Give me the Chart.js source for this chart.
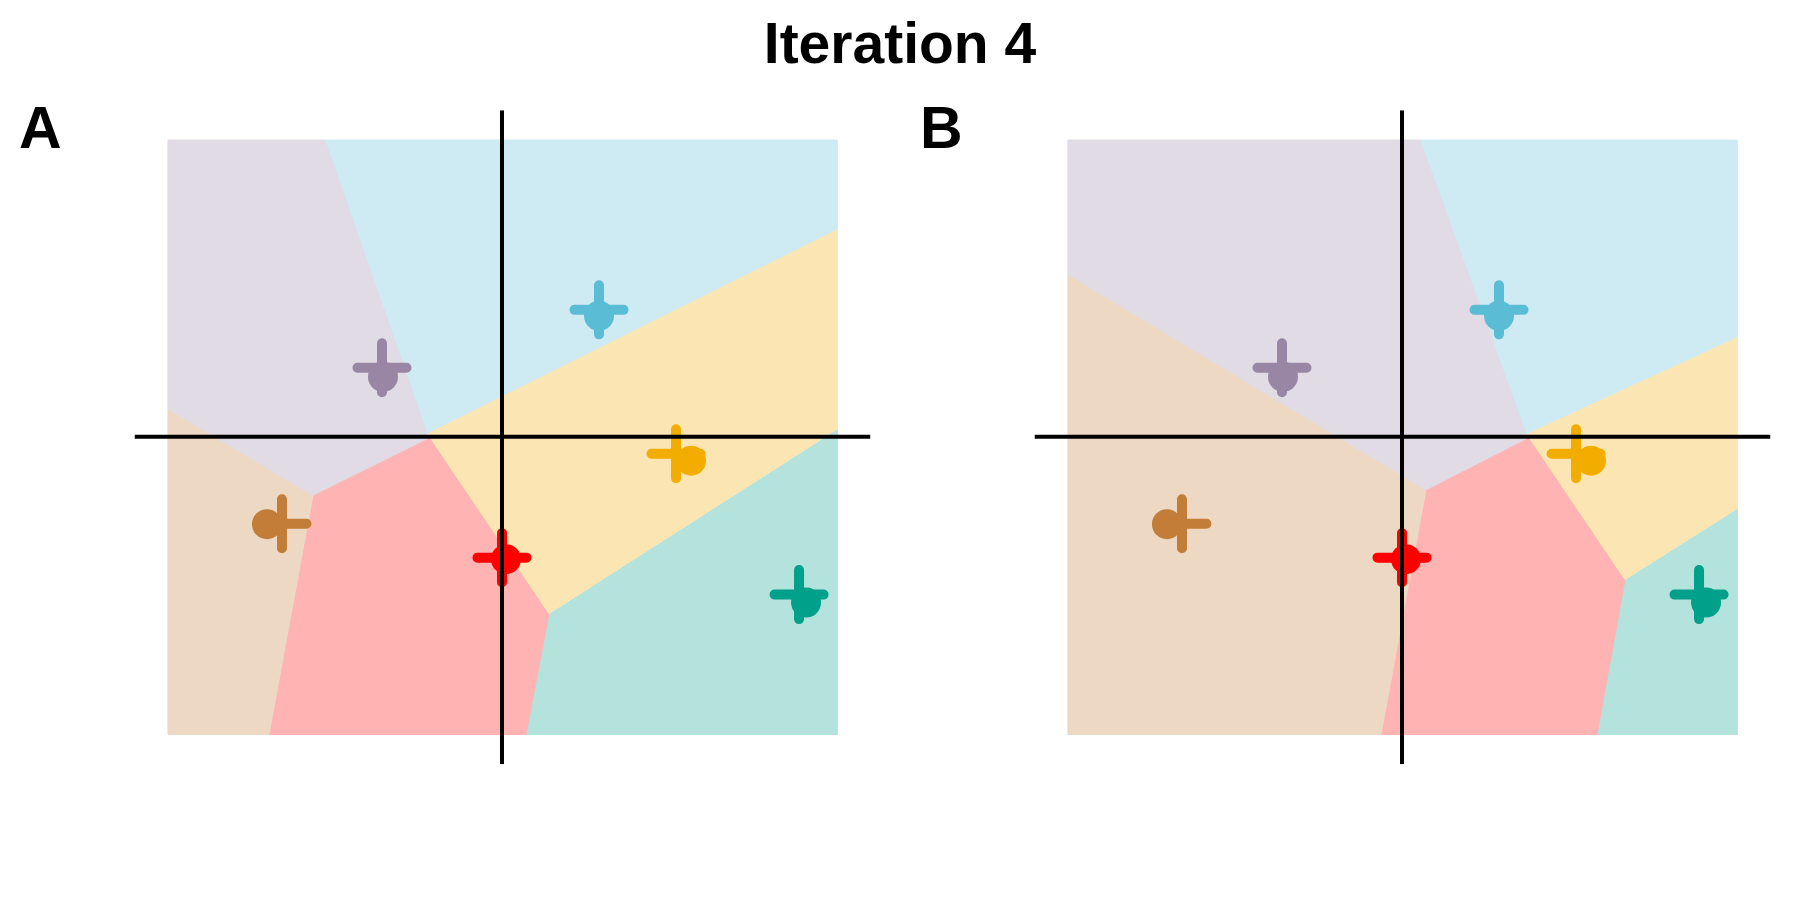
<!DOCTYPE html>
<html>
<head>
<meta charset="utf-8">
<title>Iteration 4</title>
<script src="https://cdn.jsdelivr.net/npm/chart.js@4.4.1/dist/chart.umd.min.js"></script>
<style>
    html, body { margin: 0; padding: 0; background: #fff; }
    body { width: 1800px; height: 900px; position: relative; overflow: hidden; font-family: "Liberation Sans", Arial, sans-serif; }
    .painel { position: absolute; top: 0; width: 900px; height: 900px; }
    .titulo { position: absolute; left: 0; top: 15px; width: 1800px; text-align: center; font-size: 57px; line-height: 57px; font-weight: bold; color: #000; }
    .letra { position: absolute; top: 99px; font-size: 59px; line-height: 59px; font-weight: bold; color: #000; }
</style>
</head>
<body>
<div class="titulo">Iteration 4</div>
<div class="letra" style="left: 19px;">A</div>
<div class="letra" style="left: 920px;">B</div>
<canvas id="painelA" class="painel" style="left: 0;" width="900" height="900"></canvas>
<canvas id="painelB" class="painel" style="left: 900px;" width="900" height="900"></canvas>

<script>
// Limites do retângulo das regiões (unidades dos dados)
const limiteX = [-3.34, 3.35];
const limiteY = [-2.98, 2.97];

// Grupos, na mesma ordem em todas as listas abaixo
const grupos = ['roxo', 'ciano', 'amarelo', 'marrom', 'vermelho', 'verde'];

// Centróides da iteração 4 (cruz)
const centroX = [-1.20, 0.97, 1.74, -2.20, 0.00, 2.97];
const centroY = [0.69, 1.27, -0.17, -0.87, -1.21, -1.58];

// Posição anterior dos centróides (círculo)
const anteriorX = [-1.19, 0.97, 1.89, -2.35, 0.04, 3.04];
const anteriorY = [0.60, 1.21, -0.24, -0.875, -1.225, -1.66];

// Regiões do painel A (vértices x, y)
const roxoA = [[-3.34, 2.97], [-1.77, 2.97], [-0.75, 0.035], [-0.72, -0.005], [-1.89, -0.585], [-3.34, 0.28]];
const cianoA = [[-1.77, 2.97], [3.35, 2.97], [3.35, 2.08], [-0.75, 0.035]];
const amareloA = [[-0.75, 0.035], [3.35, 2.08], [3.35, 0.075], [0.47, -1.77], [-0.72, -0.005]];
const marromA = [[-3.34, 0.28], [-1.89, -0.585], [-2.33, -2.98], [-3.34, -2.98]];
const vermelhoA = [[-0.72, -0.005], [0.47, -1.77], [0.24, -2.98], [-2.33, -2.98], [-1.89, -0.585]];
const verdeA = [[0.47, -1.77], [3.35, 0.075], [3.35, -2.98], [0.24, -2.98]];

// Regiões do painel B (vértices x, y)
const roxoB = [[-3.34, 2.97], [0.18, 2.97], [1.24, 0.03], [1.27, -0.005], [0.24, -0.53], [-3.34, 1.625]];
const cianoB = [[0.18, 2.97], [3.35, 2.97], [3.35, 1.0], [1.24, 0.03]];
const amareloB = [[1.24, 0.03], [3.35, 1.0], [3.35, -0.72], [2.23, -1.43], [1.27, -0.005]];
const marromB = [[-3.34, 1.625], [0.24, -0.53], [-0.21, -2.98], [-3.34, -2.98]];
const vermelhoB = [[1.27, -0.005], [2.23, -1.43], [1.95, -2.98], [-0.21, -2.98], [0.24, -0.53]];
const verdeB = [[2.23, -1.43], [3.35, -0.72], [3.35, -2.98], [1.95, -2.98]];

// Cores dos grupos
const cores = ['#9986A5', '#5BBCD6', '#F2AD00', '#C27D38', '#FF0000', '#00A08A'];

// Mistura a cor com branco (equivale a alpha 0.3 sobre fundo branco)
function clarear(hex, alpha) {
    const n = parseInt(hex.slice(1), 16);
    const canal = [(n >> 16) & 255, (n >> 8) & 255, n & 255]
        .map(c => Math.round(c * alpha + 255 * (1 - alpha)));
    return `rgb(${canal[0]}, ${canal[1]}, ${canal[2]})`;
}

// Expansão de 5% como no ggplot
function expandir(lim) {
    const d = (lim[1] - lim[0]) * 0.05;
    return [lim[0] - d, lim[1] + d];
}

// Pontas arredondadas nas cruzes
const pontasRedondas = {
    id: 'pontasRedondas',
    beforeDatasetsDraw(chart) {
        chart.ctx.lineCap = 'round';
    }
};

function criarPainel(canvasId, regioes) {
    const ex = expandir(limiteX);
    const ey = expandir(limiteY);
    const datasets = [];

    regioes.forEach((vertices, i) => {
        const pontos = vertices.map(v => ({ x: v[0], y: v[1] }));
        pontos.push(pontos[0]);
        const fundo = clarear(cores[i], 0.3);
        datasets.push({
            label: grupos[i],
            data: pontos,
            fill: 'shape',
            backgroundColor: fundo,
            borderColor: fundo,
            borderWidth: 1,
            pointRadius: 0,
            tension: 0,
            order: 3
        });
    });

    grupos.forEach((g, i) => {
        datasets.push({
            label: g + ' anterior',
            data: [{ x: anteriorX[i], y: anteriorY[i] }],
            showLine: false,
            pointStyle: 'circle',
            pointRadius: 15,
            pointBackgroundColor: cores[i],
            pointBorderWidth: 0,
            order: 2
        });
        datasets.push({
            label: g + ' centro',
            data: [{ x: centroX[i], y: centroY[i] }],
            showLine: false,
            pointStyle: 'cross',
            pointRadius: 24.5,
            pointBorderColor: cores[i],
            pointBorderWidth: 10,
            order: 1
        });
    });

    // Linhas x = 0 e y = 0 atravessando o painel
    datasets.push({
        label: 'y0',
        data: [{ x: ex[0], y: 0 }, { x: ex[1], y: 0 }],
        borderColor: '#000',
        borderWidth: 4,
        pointRadius: 0,
        fill: false,
        order: 0
    });
    datasets.push({
        label: 'x0',
        data: [{ x: 0, y: ey[0] }, { x: 0, y: ey[1] }],
        borderColor: '#000',
        borderWidth: 4,
        pointRadius: 0,
        fill: false,
        order: 0
    });

    new Chart(document.getElementById(canvasId).getContext('2d'), {
        type: 'line',
        data: { datasets: datasets },
        options: {
            responsive: false,
            devicePixelRatio: 1,
            animation: false,
            events: [],
            layout: {
                autoPadding: false,
                padding: { left: 134.5, right: 29.5, top: 110.3, bottom: 135.8 }
            },
            scales: {
                x: { type: 'linear', min: ex[0], max: ex[1], display: false },
                y: { type: 'linear', min: ey[0], max: ey[1], display: false }
            },
            plugins: {
                legend: { display: false },
                tooltip: { enabled: false }
            }
        },
        plugins: [pontasRedondas]
    });
}

criarPainel('painelA', [roxoA, cianoA, amareloA, marromA, vermelhoA, verdeA]);
criarPainel('painelB', [roxoB, cianoB, amareloB, marromB, vermelhoB, verdeB]);
</script>
</body>
</html>
